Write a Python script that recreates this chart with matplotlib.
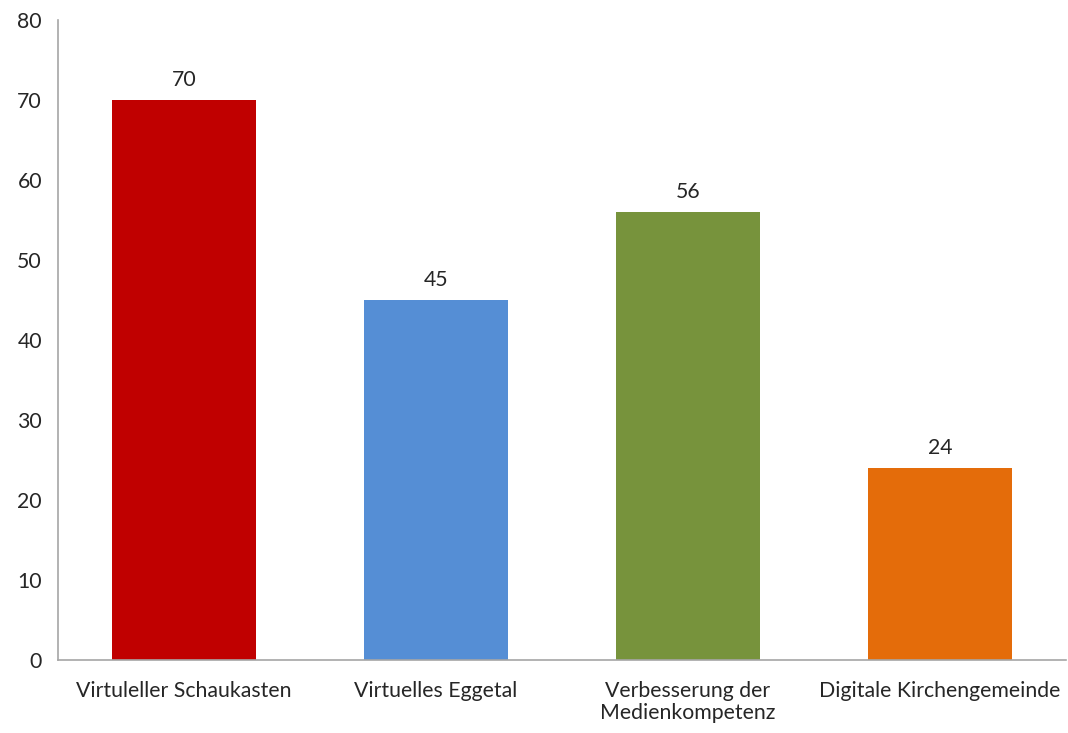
import matplotlib
matplotlib.use('Agg')
import matplotlib.pyplot as plt

categories = ["Virtuleller Schaukasten", "Virtuelles Eggetal",
              "Verbesserung der\nMedienkompetenz", "Digitale Kirchengemeinde"]
values = [70, 45, 56, 24]
colors = ["#C00000", "#558ED5", "#77933C", "#E46C0A"]

plt.rcParams['font.family'] = ['Lato', 'DejaVu Sans']
fs = 15.3

fig = plt.figure(figsize=(10.68, 7.33), dpi=100)
ax = fig.add_axes([0.0543, 0.0996, 0.9437, 0.8731])

x = range(len(categories))
bars = ax.bar(x, values, width=0.571, color=colors)
for b, v in zip(bars, values):
    ax.text(b.get_x() + b.get_width() / 2, v + 1.3, str(v),
            ha='center', va='bottom', fontsize=fs, color='#262626')

ax.set_xlim(-0.5, 3.5)
ax.set_ylim(0, 80)
ax.set_yticks(range(0, 81, 10))
ax.set_xticks(list(x))
ax.set_xticklabels(categories, fontsize=fs, color='#262626', linespacing=1.15)
ax.tick_params(axis='y', length=0, pad=11.5, labelsize=fs, labelcolor='#262626')
ax.tick_params(axis='x', length=0, pad=15)

for s in ['top', 'right']:
    ax.spines[s].set_visible(False)
for s in ['left', 'bottom']:
    ax.spines[s].set_color('#A6A6A6')
    ax.spines[s].set_linewidth(1.2)

fig.savefig('out.png', dpi=100)
